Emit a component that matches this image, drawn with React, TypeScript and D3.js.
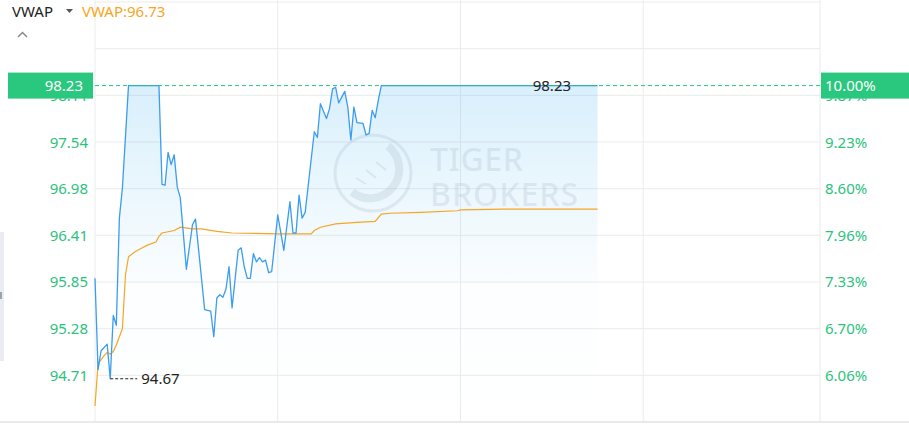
import React from "react";
import * as d3 from "d3";

const priceMinutes = [0,1,2,4,5,6,7,8,9,11,21,22,23,24,25,26,27,28,30,32,33,36,37,38,39,40,41,42,43,44,45,47,48,49,50,51,52,53,54,55,56,57,58,60,62,64,65,66,67,68,69,72,73,74,76,77,78,79,80,82,83,84,85,86,88,89,90,91,92,93,94,165];
const priceValues = [95.89,94.78,95.01,95.09,94.67,95.44,95.32,96.62,96.99,98.23,98.23,97.03,97.02,97.42,97.27,97.39,97.00,96.87,96.00,96.54,96.61,95.51,95.50,95.49,95.18,95.65,95.69,95.66,95.76,96.03,95.53,96.23,96.26,96.03,95.89,95.89,96.19,96.09,96.14,96.09,96.11,95.96,95.97,96.66,96.23,96.82,96.44,96.44,96.90,96.62,96.69,97.67,97.60,98.01,97.83,97.95,98.19,98.21,98.02,98.16,97.97,97.57,97.97,97.78,97.77,97.63,97.65,97.93,97.84,98.05,98.23,98.23];

const vwapMinutes = [0,1,3,4,5,6,7,9,10,11,13,16,17,20,21,22,26,28,32,35,40,45,60,71,72,74,79,86,92,94,97,107,119,120,134,165];
const vwapValues = [94.34,94.85,94.95,94.99,94.97,95.00,95.08,95.28,95.93,96.15,96.21,96.27,96.29,96.33,96.40,96.44,96.47,96.51,96.49,96.49,96.46,96.44,96.43,96.43,96.47,96.51,96.55,96.57,96.58,96.67,96.68,96.69,96.71,96.72,96.73,96.73];

const priceTicks = [94.71, 95.28, 95.85, 96.41, 96.98, 97.54, 98.11];
const priceTickLabels = ["94.71", "95.28", "95.85", "96.41", "96.98", "97.54", "98.11"];
const pctTickLabels = ["6.06%", "6.70%", "7.33%", "7.96%", "8.60%", "9.23%", "9.87%"];
const timeGridMinutes = [0, 60, 120, 180];

const limitPrice = 98.23;
const limitLabel = "98.23";
const limitPctLabel = "10.00%";
const lowPrice = 94.67;
const lowMinute = 5;
const lowLabel = "94.67";
const highLabelMinute = 150;
const vwapLast = "96.73";

const W = 909;
const H = 424;
const left = 95;
const right = 820;
const top = 2;
const bottom = 422;
const domainLo = 94.145;
const domainHi = 99.245;

const GREEN = "#2ac77e";
const GREEN_TXT = "#2cc27c";
const BLUE = "#3b9cf0";
const ORANGE = "#f6a623";
const GRID = "#ebebeb";
const FONT = "'Noto Sans', 'Open Sans', sans-serif";

export default function App() {
  const x = d3.scaleLinear().domain([0, 240]).range([left, 826]);
  const y = d3.scaleLinear().domain([domainLo, domainHi]).range([bottom, top]);

  const priceData = priceMinutes.map((m, i) => ({ m, v: priceValues[i] }));
  const vwapData = vwapMinutes.map((m, i) => ({ m, v: vwapValues[i] }));

  const line = d3
    .line<{ m: number; v: number }>()
    .x((d) => x(d.m))
    .y((d) => y(d.v));
  const area = d3
    .area<{ m: number; v: number }>()
    .x((d) => x(d.m))
    .y0(bottom)
    .y1((d) => y(d.v));

  const gridLevels = d3.range(10).map((i) => domainLo + (i * (domainHi - domainLo)) / 9);
  const yLimit = y(limitPrice);

  return (
    <svg
      width={W}
      height={H}
      style={{ position: "absolute", left: 0, top: 0, background: "#fff" }}
      fontFamily={FONT}
    >
      <defs>
        <linearGradient id="areaGrad" gradientUnits="userSpaceOnUse" x1="0" x2="0" y1={yLimit} y2={bottom}>
          <stop offset="0" stopColor="#2aa8ee" stopOpacity={0.18} />
          <stop offset="0.4" stopColor="#2aa8ee" stopOpacity={0.07} />
          <stop offset="0.6" stopColor="#2aa8ee" stopOpacity={0.015} />
          <stop offset="1" stopColor="#2aa8ee" stopOpacity={0} />
        </linearGradient>
      </defs>

      {/* grid */}
      {gridLevels.map((g, i) => (
        <line key={"h" + i} x1={left} x2={right} y1={y(g)} y2={y(g)} stroke={GRID} strokeWidth={1} />
      ))}
      {timeGridMinutes.map((m) => (
        <line key={"v" + m} x1={x(m)} x2={x(m)} y1={0} y2={bottom} stroke={GRID} strokeWidth={1} />
      ))}
      <line x1={right} x2={right} y1={0} y2={bottom} stroke={GRID} strokeWidth={1} />
      <line x1={0} x2={W} y1={bottom} y2={bottom} stroke="#e4e4e4" strokeWidth={1.5} />

      {/* left gray handle */}
      <rect x={0} y={232} width={4} height={129} fill="#e9edf2" />
      <rect x={0} y={292} width={2} height={7} fill="#9aa3ad" />

      {/* area */}
      <path d={area(priceData) || ""} fill="url(#areaGrad)" />

      {/* watermark */}
      <g fill="none" stroke="rgba(170,190,205,0.28)">
        <circle cx={373} cy={173} r={38} strokeWidth={3} />
        <path d="M 388 146 A 26 26 0 0 1 352 192" strokeWidth={8} />
        <path d="M 356 178 L 366 184 M 366 170 L 376 178 M 376 162 L 386 170" strokeWidth={2} />
      </g>
      <g fill="rgba(170,190,205,0.28)" fontSize={32} fontWeight={500}>
        <text x={430} y={171} textLength={93}>TIGER</text>
        <text x={430} y={206} textLength={148}>BROKERS</text>
      </g>

      {/* vwap */}
      <path d={line(vwapData) || ""} fill="none" stroke={ORANGE} strokeWidth={1.2} />
      {/* price */}
      <path d={line(priceData) || ""} fill="none" stroke={BLUE} strokeWidth={1.3} strokeLinejoin="round" />

      {/* limit dashed line */}
      <line x1={left} x2={right} y1={yLimit} y2={yLimit} stroke={GREEN} strokeWidth={1} strokeDasharray="4 3" />

      {/* high label */}
      <text x={x(highLabelMinute)} y={yLimit} dy="0.35em" textAnchor="middle" fontSize={15} fill="#222">
        {limitLabel}
      </text>

      {/* low label */}
      <line
        x1={x(lowMinute)}
        x2={x(lowMinute) + 27}
        y1={y(lowPrice)}
        y2={y(lowPrice)}
        stroke="#222"
        strokeWidth={1}
        strokeDasharray="3 2"
      />
      <text x={x(lowMinute) + 31} y={y(lowPrice)} dy="0.35em" fontSize={15} fill="#222">
        {lowLabel}
      </text>

      {/* left axis labels */}
      {priceTicks.map((t, i) => (
        <text key={"l" + i} x={88} y={y(t)} dy="0.35em" textAnchor="end" fontSize={15} fill={GREEN_TXT}>
          {priceTickLabels[i]}
        </text>
      ))}
      {/* right axis labels */}
      {priceTicks.map((t, i) => (
        <text key={"r" + i} x={825} y={y(t)} dy="0.35em" fontSize={15} fill={GREEN_TXT}>
          {pctTickLabels[i]}
        </text>
      ))}

      {/* badges */}
      <rect x={8} y={yLimit - 13} width={85} height={26} fill={GREEN} />
      <text x={83} y={yLimit} dy="0.35em" textAnchor="end" fontSize={15} fill="#fff">
        {limitLabel}
      </text>
      <rect x={821} y={yLimit - 13} width={88} height={26} fill={GREEN} />
      <text x={825} y={yLimit} dy="0.35em" fontSize={15} fill="#fff">
        {limitPctLabel}
      </text>

      {/* header */}
      <text x={12} y={17} fontSize={15} fill="#222">VWAP</text>
      <polygon points="66,9 73,9 69.5,13" fill="#555" />
      <text x={82} y={17} fontSize={15} fill={ORANGE}>{"VWAP:" + vwapLast}</text>
      <polyline points="18,37 22.5,32.5 27,37" fill="none" stroke="#888" strokeWidth={1.5} />
    </svg>
  );
}
